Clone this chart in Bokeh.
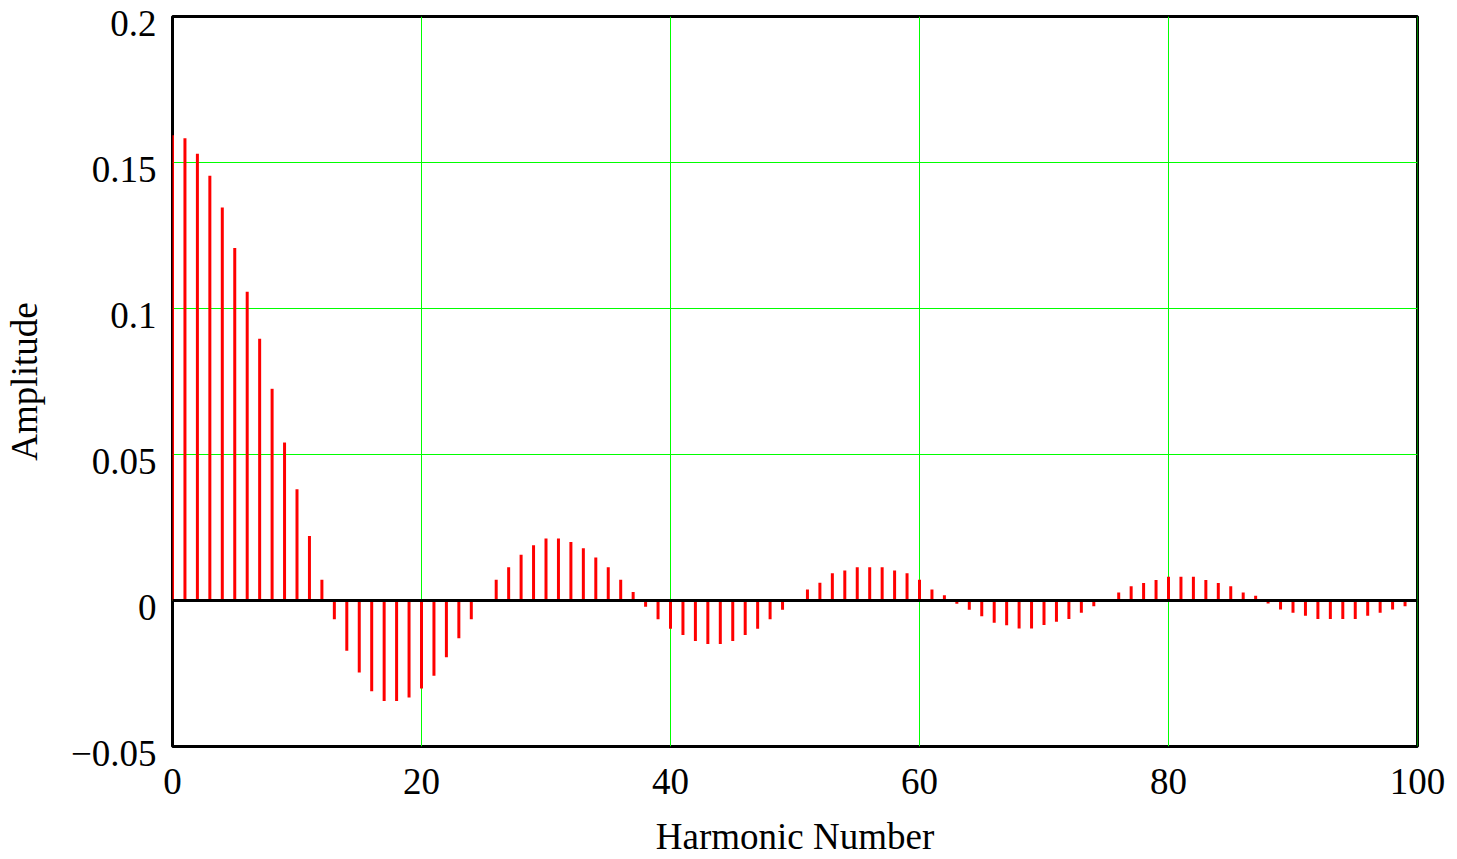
from bokeh.plotting import figure
from bokeh.models import Range1d, FixedTicker, Span, Label
from bokeh.embed import file_html
from bokeh.resources import INLINE

harmonic = list(range(0, 100))
amplitude = [
    0.1593, 0.1583, 0.1530, 0.1455, 0.1346, 0.1207, 0.1057, 0.0896, 0.0725, 0.0541,
    0.0381, 0.0221, 0.0071, -0.0064, -0.0172, -0.0247, -0.0311, -0.0344, -0.0344, -0.0332,
    -0.0301, -0.0258, -0.0194, -0.0129, -0.0064, 0.0, 0.0071, 0.0114, 0.0157, 0.0189,
    0.0212, 0.0212, 0.0200, 0.0179, 0.0147, 0.0114, 0.0071, 0.0029, -0.0021, -0.0064,
    -0.0097, -0.0118, -0.0139, -0.0149, -0.0149, -0.0139, -0.0118, -0.0097, -0.0064, -0.0032,
    0.0, 0.0038, 0.0061, 0.0093, 0.0103, 0.0114, 0.0114, 0.0114, 0.0103, 0.0093,
    0.0071, 0.0038, 0.0018, -0.0011, -0.0032, -0.0054, -0.0076, -0.0085, -0.0096, -0.0096,
    -0.0084, -0.0073, -0.0063, -0.0042, -0.0020, 0.0, 0.0027, 0.0049, 0.0060, 0.0070,
    0.0081, 0.0081, 0.0081, 0.0070, 0.0060, 0.0049, 0.0027, 0.0016, -0.0010, -0.0031,
    -0.0042, -0.0052, -0.0063, -0.0063, -0.0063, -0.0063, -0.0052, -0.0042, -0.0031, -0.0020,
]
x_ticks = [0, 20, 40, 60, 80, 100]
x_tick_labels = ["0", "20", "40", "60", "80", "100"]
y_ticks = [-0.05, 0, 0.05, 0.1, 0.15, 0.2]
y_tick_labels = ["\u22120.05", "0", "0.05", "0.1", "0.15", "0.2"]

FONT = "Liberation Serif"
FS = "37px"
X0, X1 = 0, 100
Y0, Y1 = -0.05, 0.2

p = figure(width=1457, height=859, output_backend="svg", toolbar_location=None,
           x_range=Range1d(X0, X1), y_range=Range1d(Y0, Y1))
p.min_border_left = 172
p.min_border_right = 40
p.min_border_top = 16
p.min_border_bottom = 113

p.outline_line_color = "black"
p.outline_line_width = 3
p.xgrid.grid_line_color = None
p.ygrid.grid_line_color = None

# green grid lines (inside the frame)
for t in x_ticks:
    if X0 < t:
        p.add_layout(Span(location=t, dimension="height", line_color="#00ff00",
                          line_width=1, level="underlay"))
for t in y_ticks:
    if Y0 < t < Y1:
        p.add_layout(Span(location=t, dimension="width", line_color="#00ff00",
                          line_width=1, level="underlay"))

# axes
p.xaxis.ticker = FixedTicker(ticks=x_ticks)
p.yaxis.ticker = FixedTicker(ticks=y_ticks)
p.xaxis.major_label_overrides = {t: l for t, l in zip(x_ticks, x_tick_labels)}
p.yaxis.major_label_overrides = {t: "" for t in y_ticks}
for ax in (p.xaxis, p.yaxis):
    ax.axis_line_color = None
    ax.major_tick_line_color = None
    ax.minor_tick_line_color = None
    ax.major_tick_out = 0
    ax.major_tick_in = 0
    ax.minor_tick_out = 0
    ax.minor_tick_in = 0
    ax.major_label_text_font = FONT
    ax.major_label_text_color = "black"
    ax.axis_label_text_font = FONT
    ax.axis_label_text_font_size = FS
    ax.axis_label_text_font_style = "normal"
    ax.axis_label_text_color = "black"
p.xaxis.major_label_text_font_size = FS
p.yaxis.major_label_text_font_size = "1px"
p.yaxis.major_label_standoff = 0
p.xaxis.major_label_standoff = 22
p.xaxis.axis_label = "Harmonic Number"
p.yaxis.axis_label = "Amplitude"
p.xaxis.axis_label_standoff = 19
p.yaxis.axis_label_standoff = 42

# y tick labels: one right-aligned block, one line per tick (top to bottom)
ylab = Label(x=X0, y=Y1, text="\n".join(reversed(y_tick_labels)),
             x_offset=-16, y_offset=14, text_align="right", text_baseline="top",
             text_font=FONT, text_font_size=FS, text_color="black",
             text_line_height=3.564)
yaxis = p.yaxis[0]
p.left = [ylab, yaxis]

# stems
p.segment(x0=harmonic, y0=[0] * len(harmonic), x1=harmonic, y1=amplitude,
          line_color="red", line_width=3)
# zero line
p.line(x=[X0, X1], y=[0, 0], line_color="black", line_width=3)

open("out.html", "w").write(file_html(p, INLINE))
